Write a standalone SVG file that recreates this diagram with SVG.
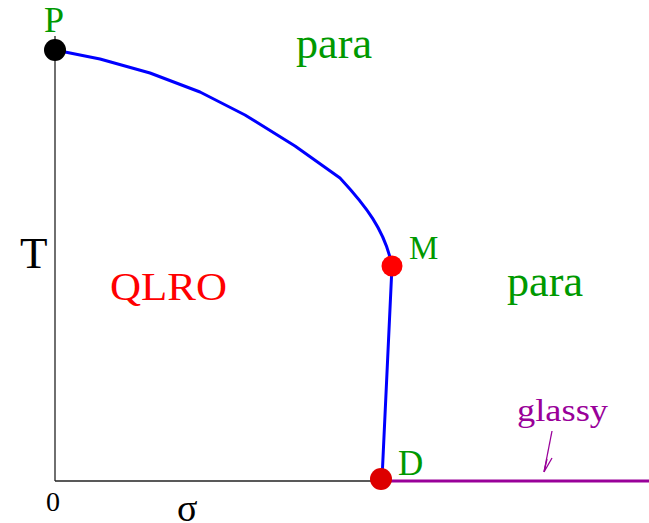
<svg xmlns="http://www.w3.org/2000/svg" width="649" height="523" viewBox="0 0 649 523">
<style>
.lbl{font-family:"Liberation Serif","DejaVu Serif",serif}
.g{fill:#009900}
.axis{stroke:#222;stroke-width:1.3;fill:none}
</style>
<rect width="649" height="523" fill="#fff"/>
<g id="connectors">
<line class="axis" x1="55" y1="36" x2="55" y2="481"/>
<line class="axis" x1="55" y1="481" x2="382" y2="481"/>
<line x1="382" y1="481" x2="649" y2="481" stroke="#990099" stroke-width="3"/>
<path fill="none" stroke="#0000ff" stroke-width="3" stroke-linejoin="round" d="M55,50 L100,59 L150,73 L200,92 L245,115 L295,146 L340,178 C365,205 385,230 392,266 L382,479"/>
<g stroke="#990099" stroke-width="1.3" fill="none">
<line x1="552" y1="431" x2="544" y2="472"/>
<polyline points="547,459 544,472 552,458"/>
</g>
</g>
<g id="P"><circle cx="55" cy="50" r="11" fill="#000"/><text class="lbl g" x="44" y="32" font-size="36">P</text></g>
<g id="M"><circle cx="392" cy="266" r="10.5" fill="#ff0000"/><text class="lbl g" x="409" y="259" font-size="33">M</text></g>
<g id="D"><circle cx="381" cy="479" r="11" fill="#dd0000"/><text class="lbl g" x="398" y="475" font-size="35">D</text></g>
<g id="labels">
<text class="lbl g" x="296" y="58" font-size="44" textLength="76" lengthAdjust="spacingAndGlyphs">para</text>
<text class="lbl g" x="507" y="296" font-size="44" textLength="76" lengthAdjust="spacingAndGlyphs">para</text>
<text class="lbl" x="110" y="300" font-size="40" fill="#ff0000" textLength="117" lengthAdjust="spacingAndGlyphs">QLRO</text>
<text class="lbl" x="20" y="268" font-size="45" fill="#000">T</text>
<text class="lbl" x="517" y="421" font-size="32" fill="#990099" textLength="91" lengthAdjust="spacingAndGlyphs">glassy</text>
<text class="lbl" x="46" y="511" font-size="28" fill="#000">0</text>
<text class="lbl" x="177" y="521" font-size="38" fill="#000">σ</text>
</g>
</svg>
